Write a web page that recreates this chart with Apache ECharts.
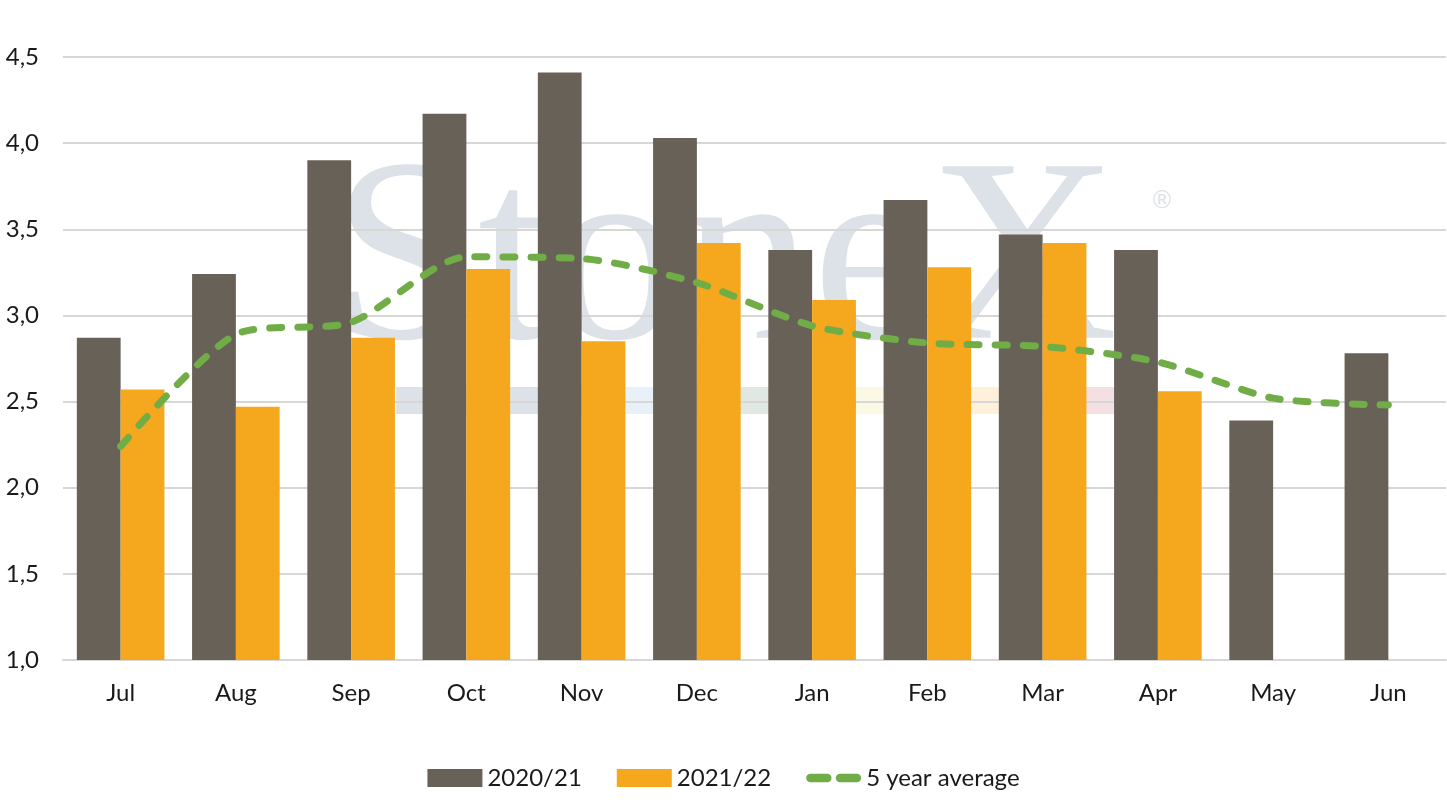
<!DOCTYPE html>
<html>
<head>
    <meta charset="utf-8">
    <title>StoneX chart</title>
    <script src="https://cdnjs.cloudflare.com/ajax/libs/echarts/6.0.0/echarts.min.js"></script>
    <style>
        html, body { margin: 0; padding: 0; background: #fff; }
        #chart { width: 1447px; height: 812px; }
    </style>
</head>
<body>
    <div id="chart"></div>
    <script>
        // data
        var months = ['Jul', 'Aug', 'Sep', 'Oct', 'Nov', 'Dec', 'Jan', 'Feb', 'Mar', 'Apr', 'May', 'Jun'];
        var season2021 = [2.87, 3.24, 3.90, 4.17, 4.41, 4.03, 3.38, 3.67, 3.47, 3.38, 2.39, 2.78];
        var season2122 = [2.57, 2.47, 2.87, 3.27, 2.85, 3.42, 3.09, 3.28, 3.42, 2.56, null, null];
        var fiveYearAvg = [2.24, 2.89, 2.96, 3.34, 3.33, 3.19, 2.94, 2.84, 2.82, 2.73, 2.52, 2.48];
        var seriesNames = ['2020/21', '2021/22', '5 year average'];

        // watermark band colours (left to right)
        var bandColors = ['#dde2e8', '#dde2e8', '#e8f0f8', '#dfe8e2', '#fbf8e6', '#fdf1dc', '#f4e0e2'];

        var font = 'Lato, "Open Sans", sans-serif';
        var dashIcon = 'path://M4,0H20A4,4,0,0,1,20,8H4A4,4,0,0,1,4,0Z M32,0H48A4,4,0,0,1,48,8H32A4,4,0,0,1,32,0Z';

        var chart = echarts.init(document.getElementById('chart'));

        // faint StoneX logo behind the plot
        var graphics = [{
            type: 'text',
            left: 332,
            top: 138,
            z: -10,
            silent: true,
            style: {
                text: 'StoneX',
                font: '262px "Liberation Serif", "DejaVu Serif", serif',
                fill: '#dde2e8'
            }
        }, {
            type: 'text',
            left: 1150,
            top: 190,
            z: -10,
            silent: true,
            style: { text: '®', font: '24px "DejaVu Sans", sans-serif', fill: '#dde2e8' }
        }];
        bandColors.forEach(function (c, i) {
            graphics.push({
                type: 'rect',
                z: -10,
                silent: true,
                shape: { x: 396 + i * 103, y: 387, width: 103, height: 27 },
                style: { fill: c }
            });
        });

        chart.setOption({
            animation: false,
            textStyle: { fontFamily: font },
            graphic: graphics,
            grid: {
                left: 63,
                right: 1,
                top: 57,
                bottom: 152,
                containLabel: false
            },
            legend: {
                bottom: 17,
                left: 'center',
                itemWidth: 55,
                itemHeight: 18,
                itemGap: 35,
                textStyle: { fontSize: 24, color: '#1a1a1a', fontFamily: font },
                data: [
                    { name: seriesNames[0], icon: 'rect' },
                    { name: seriesNames[1], icon: 'rect' },
                    { name: seriesNames[2], icon: dashIcon }
                ]
            },
            xAxis: {
                type: 'category',
                data: months,
                axisTick: { show: false },
                axisLine: { lineStyle: { color: '#d9d6d6', width: 2 } },
                axisLabel: { fontSize: 24, color: '#1a1a1a', margin: 21 }
            },
            yAxis: {
                type: 'value',
                min: 1,
                max: 4.5,
                interval: 0.5,
                axisLine: { show: false },
                axisTick: { show: false },
                splitLine: { lineStyle: { color: '#d9d6d6', width: 2 } },
                axisLabel: {
                    fontSize: 24,
                    color: '#1a1a1a',
                    margin: 24,
                    formatter: function (v) { return v.toFixed(1).replace('.', ','); }
                }
            },
            series: [
                {
                    name: seriesNames[0],
                    type: 'bar',
                    data: season2021,
                    barGap: '0%',
                    barCategoryGap: '24%',
                    itemStyle: { color: '#686158' }
                },
                {
                    name: seriesNames[1],
                    type: 'bar',
                    data: season2122,
                    itemStyle: { color: '#f5a81e' }
                },
                {
                    name: seriesNames[2],
                    type: 'line',
                    data: fiveYearAvg,
                    smooth: 0.25,
                    symbol: 'none',
                    z: 5,
                    lineStyle: {
                        color: '#70ad47',
                        width: 7,
                        type: [12, 16],
                        cap: 'round'
                    },
                    itemStyle: { color: '#70ad47' }
                }
            ]
        });
    </script>
</body>
</html>
